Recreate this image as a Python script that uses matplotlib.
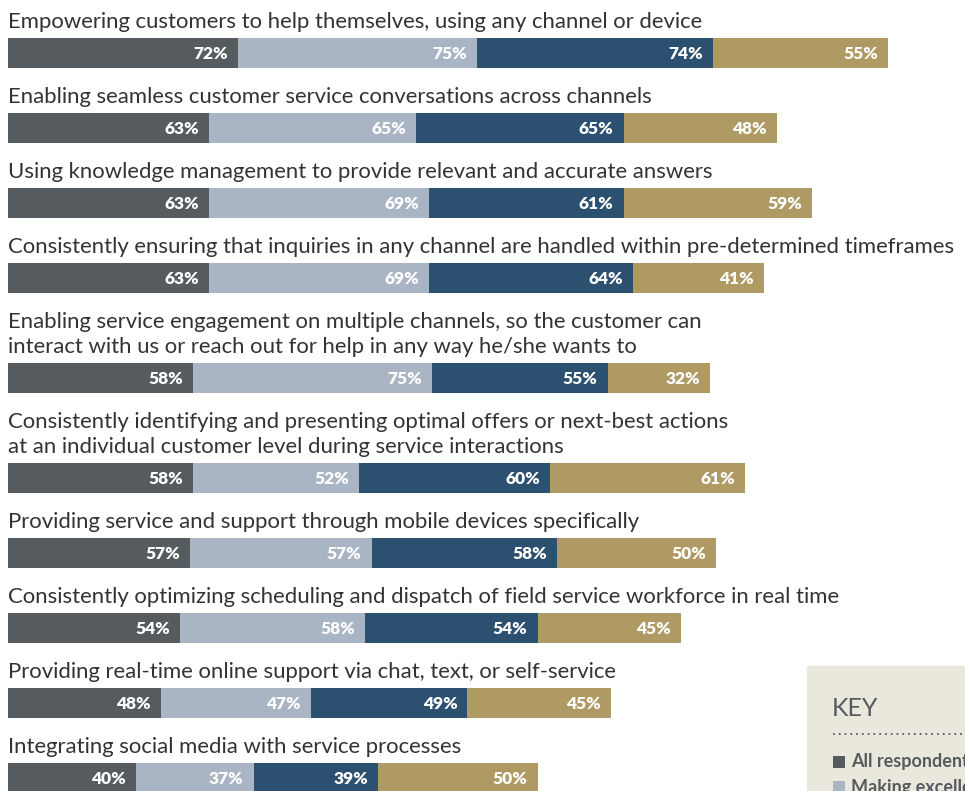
import matplotlib.pyplot as plt
from matplotlib.patches import Rectangle

# data
labels = [
    "Empowering customers to help themselves, using any channel or device",
    "Enabling seamless customer service conversations across channels",
    "Using knowledge management to provide relevant and accurate answers",
    "Consistently ensuring that inquiries in any channel are handled within pre-determined timeframes",
    "Enabling service engagement on multiple channels, so the customer can\ninteract with us or reach out for help in any way he/she wants to",
    "Consistently identifying and presenting optimal offers or next-best actions\nat an individual customer level during service interactions",
    "Providing service and support through mobile devices specifically",
    "Consistently optimizing scheduling and dispatch of field service workforce in real time",
    "Providing real-time online support via chat, text, or self-service",
    "Integrating social media with service processes",
]
s1 = [72, 63, 63, 63, 58, 58, 57, 54, 48, 40]
s2 = [75, 65, 69, 69, 75, 52, 57, 58, 47, 37]
s3 = [74, 65, 61, 64, 55, 60, 58, 54, 49, 39]
s4 = [55, 48, 59, 41, 32, 61, 50, 45, 45, 50]
series = [s1, s2, s3, s4]
colors = ["#555b5f", "#a9b4c4", "#2b5070", "#ae9a62"]
key_names = ["All respondents", "Making excellent progress"]

W, H = 965, 791
fig = plt.figure(figsize=(W / 100, H / 100), dpi=100)
ax = fig.add_axes([0, 0, 1, 1])
px = 3.19  # pixels per percent point
ax.set_xlim(-8 / px, (W - 8) / px)
ax.set_ylim(H, 0)
ax.axis("off")

font = "Lato"
bh = 30
yc = 53
for i, lab in enumerate(labels):
    nl = lab.count("\n") + 1
    if i > 0:
        yc += 75 + 25 * (nl - 1)
    top = yc - bh / 2
    ax.text(0, top - 6, lab, fontsize=15.9, family=font,
            color="#333333", va="bottom", ha="left", linespacing=1.32)
    left = 0
    for s, c in zip(series, colors):
        v = s[i]
        ax.barh(yc, v, left=left, height=bh, color=c, linewidth=0)
        ax.text(left + v - 10 / px, yc + 1, f"{v}%", color="white", fontsize=12.5,
                fontweight="heavy", family=font, ha="right", va="center")
        left += v

# key box (cut off at the edge)
kx0 = (807 - 8) / px
ax.add_patch(Rectangle((kx0, 666), 400, 200, color="#eae7dd", zorder=0))
ax.text((832 - 8) / px, 708, "KEY", fontsize=18, family=font, color="#555b5f",
        va="center", ha="left")
ax.plot([(833 - 8) / px, (W - 8) / px], [734, 734], color="#555b5f", lw=1.3,
        ls=(0, (1, 2.2)))
for j, name in enumerate(key_names):
    yy = 762 + 25 * j
    ax.add_patch(Rectangle(((833 - 8) / px, yy - 6), 12 / px, 12,
                           color=colors[j], lw=0))
    ax.text((851 - 8) / px, yy, name, fontsize=13, fontweight="bold", family=font,
            color="#555b5f", va="center", ha="left")

fig.savefig("out.png", dpi=100)
